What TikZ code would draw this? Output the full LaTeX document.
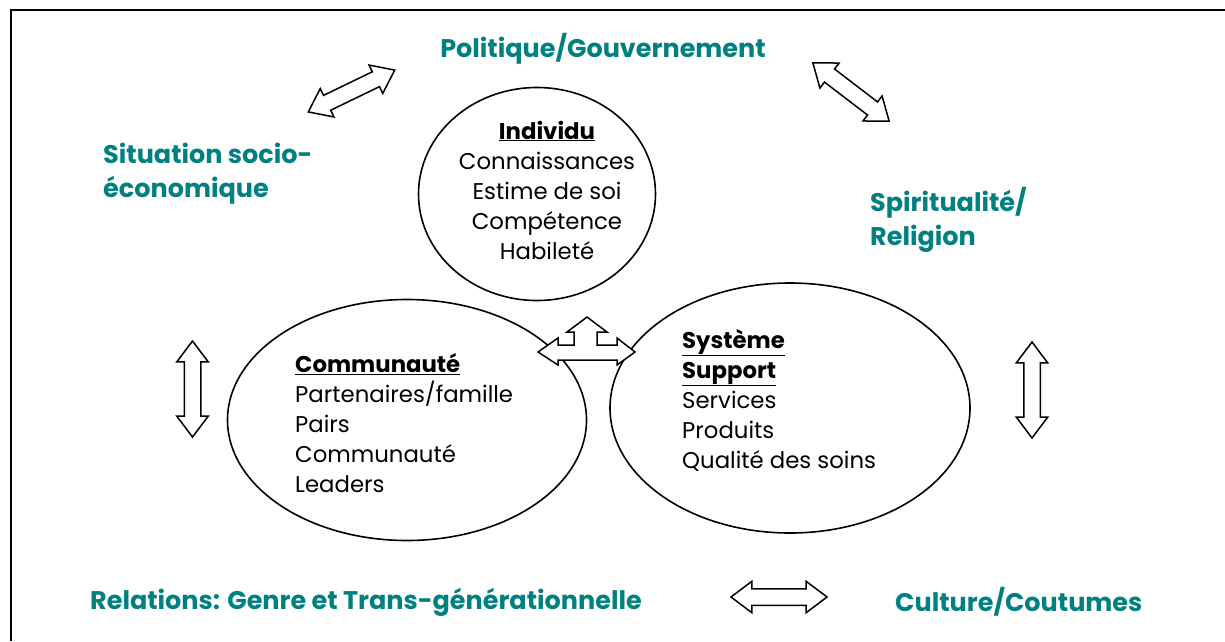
\documentclass[tikz,border=0pt]{standalone}
\usepackage{fontspec}
\setmainfont{Poppins}
\usetikzlibrary{shapes.geometric,shapes.arrows}
\definecolor{sarcelle}{RGB}{0,128,128}

\begin{document}
\begin{tikzpicture}[x=1pt,y=-1pt,
  bulle/.style={ellipse, draw, line width=1.6pt, inner sep=0pt},
  titre/.style={text=sarcelle, font=\bfseries\fontsize{25.5}{34}\selectfont, align=left, inner sep=0pt},
  liste/.style={font=\fontsize{22.8}{30}\selectfont, inner sep=0pt},
  fleche/.style={double arrow, draw, fill=white, line width=1.5pt, minimum height=96pt,
    inner xsep=0pt, inner ysep=7.5pt, double arrow head extend=7.5pt, double arrow tip angle=74}]
  \useasboundingbox (0,0) rectangle (1225,641);
  % Cadre
  \draw[line width=2.5pt] (11,641) -- (11,10) -- (1225,10);

  % Ellipses
  \node[bulle, minimum width=237pt, minimum height=213pt] (individu) at (537,194) {};
  \node[bulle, minimum width=359pt, minimum height=241pt] (communaute) at (407,420) {};
  \node[bulle, minimum width=360pt, minimum height=250pt] (systeme) at (790,408) {};

  % Textes des ellipses
  \node[liste, align=center] (tindividu) at (547,190)
    {\underline{\textbf{Individu}}\\Connaissances\\Estime de soi\\Compétence\\Habileté};
  \node[liste, align=left, anchor=west] (tcommunaute) at (295,423)
    {\underline{\textbf{Communauté}}\\Partenaires/famille\\Pairs\\Communauté\\Leaders};
  \node[liste, align=left, anchor=west] (tsysteme) at (682,400)
    {\underline{\textbf{Système}}\\\underline{\textbf{Support}}\\Services\\Produits\\Qualité des soins};

  % Facteurs
  \node[titre, anchor=center] (politique) at (603,49) {Politique/Gouvernement};
  \node[titre, anchor=west] (socio) at (103,174) {Situation socio-\\économique};
  \node[titre, anchor=west] (spirit) at (870,220) {Spiritualité/\\Religion};
  \node[titre, anchor=west] (relations) at (90,602) {Relations: Genre et Trans-générationnelle};
  \node[titre, anchor=west] (culture) at (895,602) {Culture/Coutumes};

  % Fleches
  \node[fleche, rotate=25.8] (fhg) at (351.5,91) {};
  \node[fleche, rotate=-37.4] (fhd) at (851,92) {};
  \node[fleche, rotate=90] (fg) at (192.5,389) {};
  \node[fleche, rotate=90] (fd) at (1032,390) {};
  \node[fleche] (fb) at (779,597) {};

  % Fleche centrale
  \draw[line width=1.5pt, fill=white, line join=miter]
    (538,352) -- (558,338) -- (558,345) -- (574,345) -- (574,332) -- (567,332)
    -- (587,317) -- (607,332) -- (597,332) -- (597,345) -- (617,345) -- (617,338)
    -- (635,352) -- (617,365) -- (617,360) -- (558,360) -- (558,365) -- cycle;
\end{tikzpicture}
\end{document}
